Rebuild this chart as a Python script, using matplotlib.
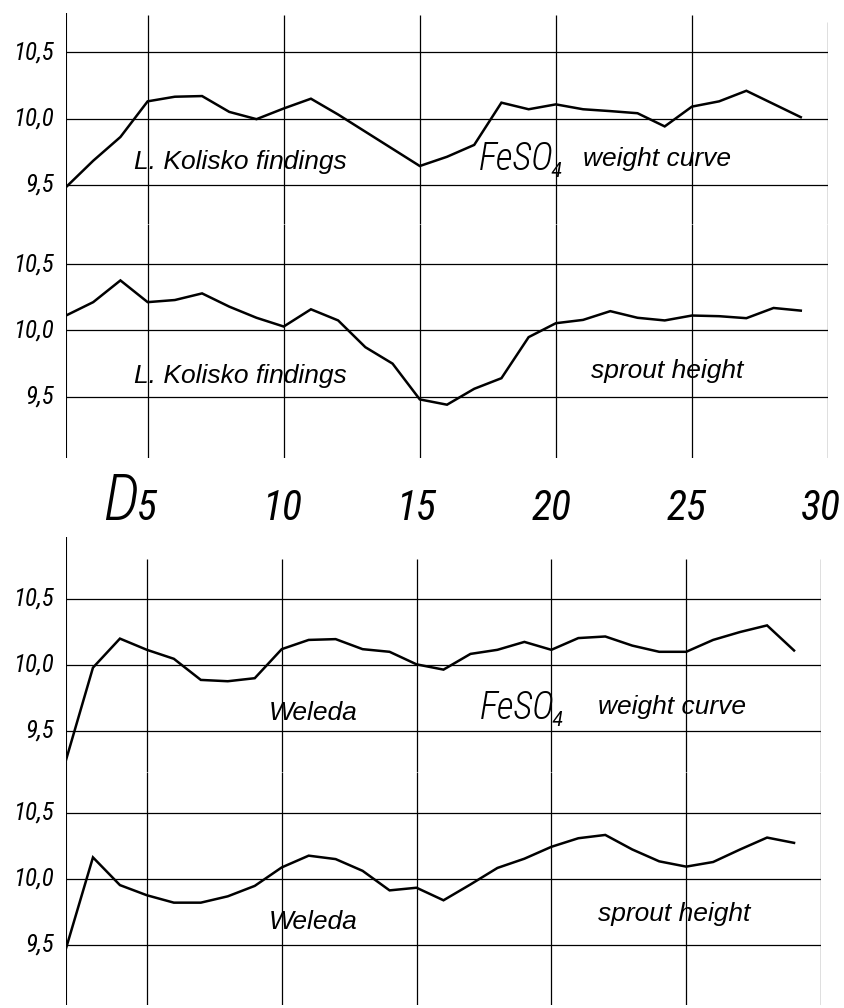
import matplotlib
matplotlib.use("Agg")
import matplotlib.pyplot as plt
from matplotlib import font_manager

# ---------------- data ----------------
days = list(range(2, 30))
kolisko_weight = [9.48, 9.68, 9.86, 10.13, 10.165, 10.17, 10.05, 9.995, 10.076, 10.15,
                  10.03, 9.90, 9.77, 9.64, 9.71, 9.80, 10.12, 10.07, 10.107, 10.07,
                  10.056, 10.04, 9.94, 10.09, 10.13, 10.21, 10.11, 10.01]
kolisko_sprout = [10.113, 10.214, 10.378, 10.214, 10.23, 10.28, 10.18, 10.096, 10.03, 10.16,
                  10.076, 9.874, 9.75, 9.48, 9.44, 9.56, 9.64, 9.95, 10.055, 10.08,
                  10.146, 10.096, 10.076, 10.113, 10.108, 10.093, 10.17, 10.15]
weleda_weight = [9.28, 9.98, 10.20, 10.115, 10.047, 9.887, 9.877, 9.90, 10.12, 10.19,
                 10.196, 10.12, 10.10, 10.005, 9.965, 10.084, 10.115, 10.175, 10.115, 10.204,
                 10.216, 10.147, 10.10, 10.10, 10.19, 10.25, 10.30, 10.11]
weleda_sprout = [9.47, 10.16, 9.95, 9.873, 9.817, 9.817, 9.865, 9.944, 10.084, 10.173,
                 10.147, 10.058, 9.91, 9.93, 9.835, 9.955, 10.08, 10.15, 10.24, 10.305,
                 10.33, 10.22, 10.13, 10.09, 10.125, 10.22, 10.31, 10.27]
grid_days = [5, 10, 15, 20, 25, 30]
day_labels = ["5", "10", "15", "20", "25", "30"]
levels = [9.5, 10.0, 10.5]
level_labels = ["9,5", "10,0", "10,5"]

# ---------------- fonts ----------------
available = {f.name for f in font_manager.fontManager.ttflist}


def pick(cands, default):
    for c in cands:
        if c in available:
            return c
    return default


HAND = pick(["Liberation Sans Narrow", "Roboto Condensed", "DejaVu Sans Condensed",
             "Open Sans Condensed"], "DejaVu Sans")
PRINT = pick(["Liberation Sans", "Arimo"], "DejaVu Sans")

W, H = 845, 1008
fig = plt.figure(figsize=(W / 100, H / 100), dpi=100)
fig.patch.set_facecolor("white")


def add_panel(x0, x1, ytop, ybot, y10, k):
    ax = fig.add_axes([x0 / W, 1 - ybot / H, (x1 - x0) / W, (ybot - ytop) / H])
    ax.set_xlim(2, 30)
    ax.set_ylim(10 - (ybot - y10) / k, 10 + (y10 - ytop) / k)
    ax.axis("off")
    return ax


def frame(ax, x0, x1, inner_top=1.0, right_top=1.0):
    ax.axvline(2, 0, 1, color="black", lw=1.5, solid_capstyle="butt")
    for d in grid_days:
        top = right_top if d == 30 else inner_top
        ax.axvline(d, 0, top, color="black", lw=0.9, solid_capstyle="butt")
    for lv, lab in zip(levels, level_labels):
        ax.axhline(lv, 0, 1, color="black", lw=0.9)
        ax.text((54 - x0) / (x1 - x0), lv, lab, transform=ax.get_yaxis_transform(),
                ha="right", va="center", fontsize=18, family=[HAND, "DejaVu Sans"],
                style="italic", fontstretch="condensed", clip_on=False)


def curve(ax, vals):
    ax.plot(days, vals, color="black", lw=1.8, solid_joinstyle="miter")


def fig_text(x, y, s, **kw):
    fig.text(x / W, 1 - y / H, s, **kw)


print_kw = dict(fontsize=19, family=[PRINT, "DejaVu Sans"], style="italic",
                va="baseline", ha="left")
hand_kw = dict(family=[HAND, "DejaVu Sans"], style="italic", fontstretch="condensed",
               va="baseline")

# ---------------- top half ----------------
TX0, TX1 = 66, 828
ax1 = add_panel(TX0, TX1, 13, 224, 118.5, 132)
frame(ax1, TX0, TX1, inner_top=(224 - 15) / 211, right_top=(224 - 22) / 211)
curve(ax1, kolisko_weight)

ax2 = add_panel(TX0, TX1, 224, 458, 330.5, 132.5)
frame(ax2, TX0, TX1)
curve(ax2, kolisko_sprout)

# ---------------- bottom half ----------------
BX0, BX1 = 66, 821
ax3 = add_panel(BX0, BX1, 537, 772, 665, 132)
frame(ax3, BX0, BX1, inner_top=(772 - 559) / 235, right_top=(772 - 559) / 235)
curve(ax3, weleda_weight)

ax4 = add_panel(BX0, BX1, 772, 1005, 878.5, 132)
frame(ax4, BX0, BX1)
curve(ax4, weleda_sprout)

# ---------------- day labels ----------------
lab_y = (772 - 520) / 235
for d, lab in zip(grid_days, day_labels):
    ax3.text(d, lab_y, lab, transform=ax3.get_xaxis_transform(), ha="center",
             fontsize=30, clip_on=False, **hand_kw)
ax3.annotate("D", xy=(5, lab_y), xycoords=ax3.get_xaxis_transform(),
             xytext=(-6, 0), textcoords="offset points", ha="right",
             fontsize=46, fontweight="light", annotation_clip=False, **hand_kw)

# ---------------- panel texts ----------------
fig_text(134, 169, "L. Kolisko findings", **print_kw)
fig_text(479, 170, "FeSO₄", fontsize=27, ha="left", fontweight="light", **hand_kw)
fig_text(583, 166, "weight curve", **print_kw)

fig_text(134, 383, "L. Kolisko findings", **print_kw)
fig_text(591, 378, "sprout height", **print_kw)

fig_text(269, 720, "Weleda", **print_kw)
fig_text(480, 719, "FeSO₄", fontsize=27, ha="left", fontweight="light", **hand_kw)
fig_text(598, 714, "weight curve", **print_kw)

fig_text(269, 929, "Weleda", **print_kw)
fig_text(598, 921, "sprout height", **print_kw)

fig.savefig("out.png", dpi=100, facecolor="white")
